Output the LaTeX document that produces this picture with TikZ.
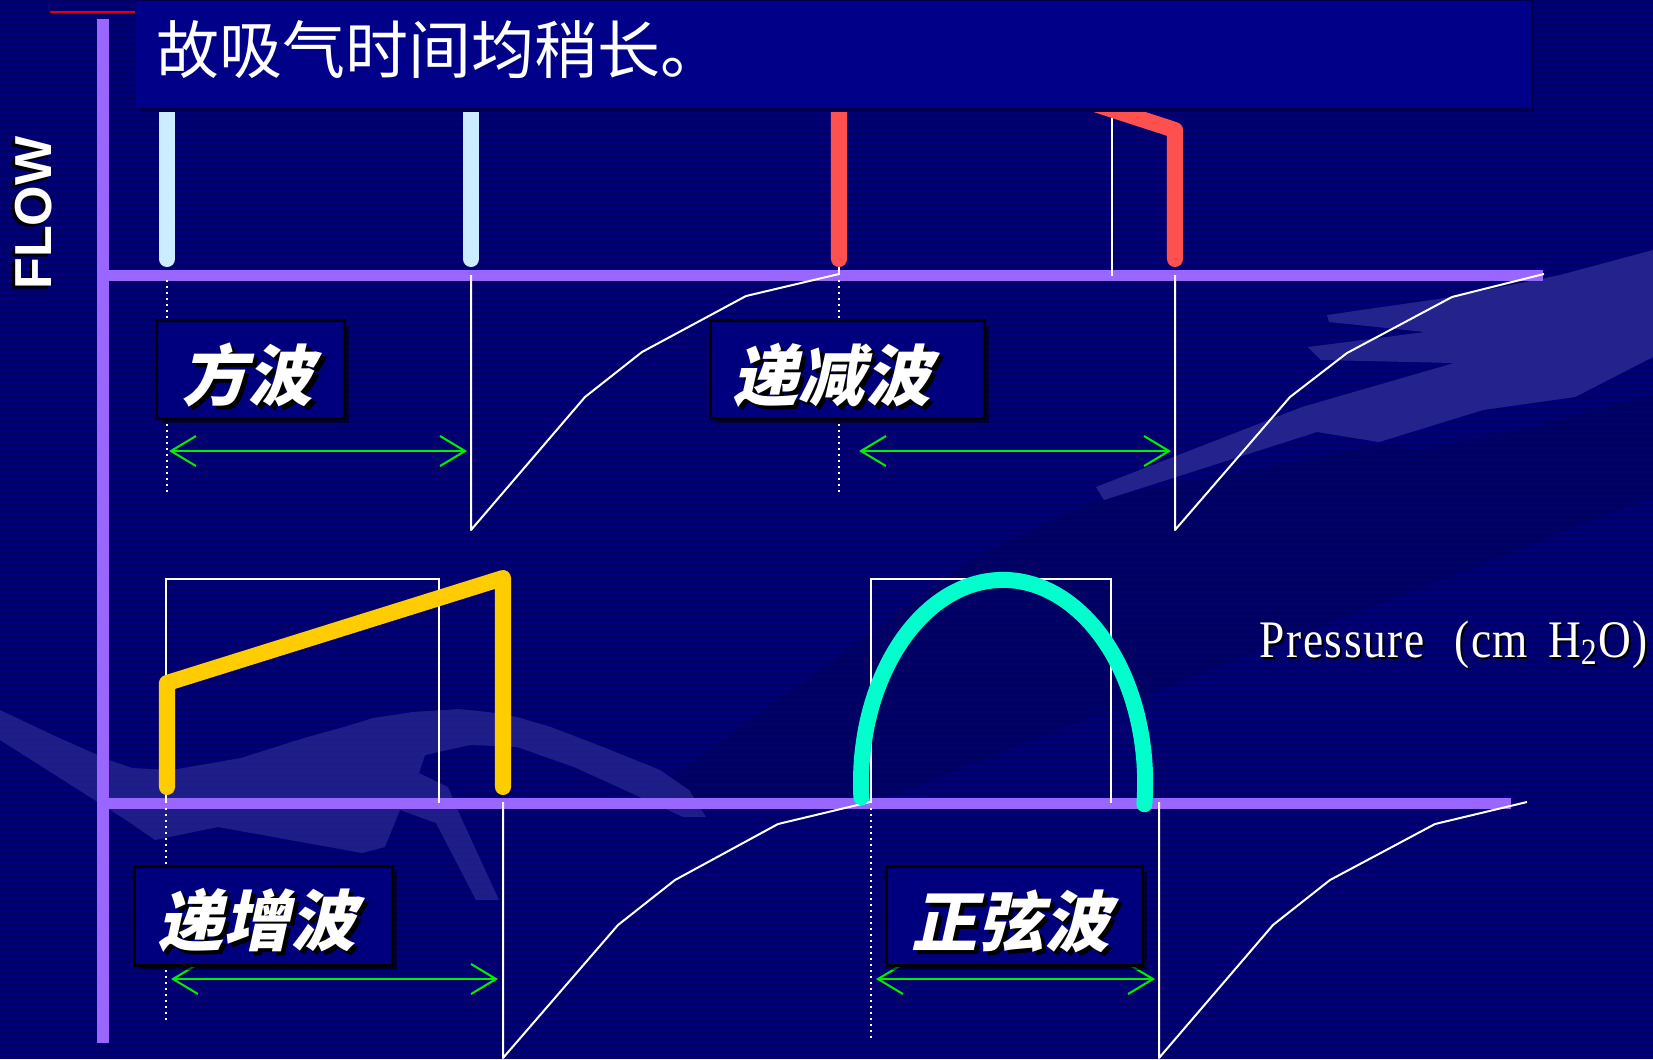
\documentclass[tikz,border=0pt]{standalone}
\usepackage{fontspec}
\setmainfont{Liberation Serif}
\newfontfamily\cjk{Noto Sans CJK SC}
\newfontfamily\cjkit[FakeSlant=0.22]{Noto Sans CJK SC}
\newfontfamily\flowfont{Liberation Sans}
\newfontfamily\pressfont[FakeStretch=0.86,LetterSpace=3]{Liberation Serif}
\usetikzlibrary{arrows.meta}
\definecolor{bgnavy}{HTML}{00007E}
\definecolor{bgstripe}{HTML}{000068}
\definecolor{titlenavy}{HTML}{000088}
\definecolor{titleshadow}{HTML}{00004A}
\definecolor{axispurple}{HTML}{9966FF}
\definecolor{barblue}{HTML}{CCECFF}
\definecolor{wavered}{HTML}{FF5050}
\definecolor{waveyellow}{HTML}{FFCC00}
\definecolor{wavecyan}{HTML}{00FFCC}
\definecolor{spangreen}{HTML}{00F000}
\definecolor{decolight}{HTML}{2A2A92}
\definecolor{decodark}{HTML}{00005C}
\definecolor{boxnavy}{HTML}{00007E}
\definecolor{accentred}{HTML}{E00000}
\tikzset{
  axisline/.style={draw=axispurple, line width=0.11cm},
  thinwhite/.style={draw=white, line width=0.02cm},
  dotwhite/.style={draw=white, line width=0.015cm, dash pattern=on 0.015cm off 0.045cm},
  wave/.style={line width=0.16cm, line cap=round, line join=round},
  span/.style={draw=spangreen, line width=0.02cm,
    {Straight Barb[length=0.25cm,width=0.3cm]}-{Straight Barb[length=0.25cm,width=0.3cm]}},
  labelbox/.style={draw=black, line width=0.03cm, fill=boxnavy, inner sep=0pt},
  boxshadow/.style={fill=black, opacity=0.55, inner sep=0pt},
  labeltext/.style={text=white, inner sep=0pt, font=\cjkit\bfseries\fontsize{18.8pt}{20pt}\selectfont},
  labelshadow/.style={text=black, inner sep=0pt, font=\cjkit\bfseries\fontsize{18.8pt}{20pt}\selectfont},
  presstext/.style={anchor=base west, inner sep=0pt, font=\pressfont\fontsize{15pt}{17pt}\selectfont},
}
\newcommand{\presslabel}{Pressure\hspace{0.3cm}(cm\hspace{0.2cm}H\textsubscript{2}O)}
\begin{document}
\begin{tikzpicture}[x=0.01cm,y=0.01cm]
\useasboundingbox (0,0) rectangle (1653,-1059);
% background
\fill[bgnavy] (0,0) rectangle (1653,-1059);
\foreach \s in {0,6,...,1056} \fill[bgstripe] (0,-\s) rectangle (1653,-\s-3);
% decorative faint shapes
\fill[decodark, opacity=0.55] (640,-800) -- (982,-553) -- (1096,-500) -- (1381,-445) -- (1420,-450) -- (1520,-430) -- (1653,-395) -- (1653,-497) -- (880,-800) -- cycle;
\fill[decolight, opacity=0.85] (1327,-315) -- (1452,-297) -- (1560,-275) -- (1653,-250) -- (1653,-357) -- (1575,-397) -- (1483,-410) -- (1379,-442) -- (1317,-432) -- (1302,-407) -- (1454,-363) -- (1321,-360) -- (1308,-347) -- (1425,-332) -- (1329,-322) -- cycle;
\fill[decolight, opacity=0.85] (1096,-487) -- (1302,-407) -- (1317,-432) -- (1104,-500) -- cycle;
\fill[decolight, opacity=0.7] (0,-710) -- (57,-737) -- (109,-760) -- (132,-768) -- (172,-770) -- (241,-758) -- (304,-738) -- (344,-727) -- (373,-718) -- (413,-712) -- (459,-709) -- (488,-712) -- (517,-717) -- (551,-727) -- (603,-747) -- (660,-770) -- (689,-790) -- (706,-817) -- (683,-817) -- (631,-793) -- (574,-767) -- (517,-747) -- (470,-745) -- (425,-755) -- (419,-773) -- (448,-787) -- (459,-813) -- (499,-900) -- (476,-900) -- (436,-823) -- (400,-810) -- (385,-847) -- (362,-853) -- (218,-827) -- (155,-840) -- (126,-820) -- (0,-740) -- cycle;

% axes
\coordinate (yTop) at (103,-19);
\coordinate (yBot) at (103,-1043);
\coordinate (o1) at (98,-275);
\coordinate (x1) at (1543,-275);
\coordinate (o2) at (98,-803);
\coordinate (x2) at (1511,-803);
\draw[axisline] (yTop) -- (yBot);
\draw[axisline] (o1) -- (x1);
\draw[axisline] (o2) -- (x2);

% square-wave reference outlines
\draw[thinwhite] (839,-275) -- (839,-40) -- (1112,-40) -- (1112,-276);
\draw[thinwhite] (166,-803) -- (166,-579) -- (439,-579) -- (439,-803);
\draw[thinwhite] (871,-803) -- (871,-579) -- (1111,-579) -- (1111,-803);

% expiratory flow curves
\draw[thinwhite, line join=round] (471,-275) -- (471,-530) -- (585,-397) -- (642,-352) -- (746,-296) -- (839,-274);
\draw[thinwhite, line join=round] (1175,-275) -- (1175,-530) -- (1290,-397) -- (1347,-353) -- (1452,-297) -- (1544,-274);
\draw[thinwhite, line join=round] (503,-802) -- (503,-1058) -- (618,-925) -- (675,-880) -- (778,-824) -- (870,-802);
\draw[thinwhite, line join=round] (1159,-802) -- (1159,-1058) -- (1273,-925) -- (1330,-880) -- (1435,-824) -- (1527,-802);

% dotted start markers
\draw[dotwhite] (167,-280) -- (167,-495);
\draw[dotwhite] (839,-280) -- (839,-495);
\draw[dotwhite] (166,-808) -- (166,-1023);
\draw[dotwhite] (871,-808) -- (871,-1038);

% inspiratory waveforms
\draw[wave, draw=barblue] (167,-259) -- (167,-40) -- (471,-40) -- (471,-259);
\draw[wave, draw=wavered] (839,-259) -- (839,-21) -- (1175,-130) -- (1175,-259);
\draw[wave, draw=waveyellow] (167,-787) -- (167,-683) -- (503,-578) -- (503,-787);
\draw[wave, draw=wavecyan] (861.35,-797.16) arc[start angle=184, end angle=-6, x radius=1.42cm, y radius=2.03cm];

% inspiratory time spans
\coordinate (s1a) at (169,-451); \coordinate (s1b) at (467,-451);
\coordinate (s2a) at (859,-451); \coordinate (s2b) at (1171,-451);
\coordinate (s3a) at (171,-979); \coordinate (s3b) at (498,-979);
\coordinate (s4a) at (876,-979); \coordinate (s4b) at (1155,-979);
\draw[span] (s1a) -- (s1b);
\draw[span] (s2a) -- (s2b);
\draw[span] (s3a) -- (s3b);
\draw[span] (s4a) -- (s4b);

% label boxes
\node[boxshadow, minimum width=1.87cm, minimum height=0.97cm] (b1s) at (255.5,-374.5) {};
\node[labelbox, minimum width=1.87cm, minimum height=0.97cm] (b1) at (250.5,-369.5) {};
\node[boxshadow, minimum width=2.73cm, minimum height=0.97cm] (b2s) at (852.5,-374.5) {};
\node[labelbox, minimum width=2.73cm, minimum height=0.97cm] (b2) at (847.5,-369.5) {};
\node[boxshadow, minimum width=2.57cm, minimum height=0.98cm] (b3s) at (268.5,-921) {};
\node[labelbox, minimum width=2.57cm, minimum height=0.98cm] (b3) at (263.5,-916) {};
\node[boxshadow, minimum width=2.55cm, minimum height=0.98cm] (b4s) at (1019.5,-921) {};
\node[labelbox, minimum width=2.55cm, minimum height=0.98cm] (b4) at (1014.5,-916) {};

\node[labelshadow] (l1s) at (252,-379) {方波};
\node[labeltext] (l1) at (248,-375) {方波};
\node[labelshadow] (l2s) at (836,-379) {递减波};
\node[labeltext] (l2) at (832,-375) {递减波};
\node[labelshadow] (l3s) at (261,-924) {递增波};
\node[labeltext] (l3) at (257,-920) {递增波};
\node[labelshadow] (l4s) at (1015,-925) {正弦波};
\node[labeltext] (l4) at (1011,-921) {正弦波};

% axis titles
\node[rotate=90, text=black, inner sep=0pt, font=\flowfont\bfseries\fontsize{14.8pt}{16pt}\selectfont] (flows) at (31,-216) {FLOW};
\node[rotate=90, text=white, inner sep=0pt, font=\flowfont\bfseries\fontsize{14.8pt}{16pt}\selectfont] (flow) at (34,-213) {FLOW};
\node[presstext, text=black] (ps) at (1261,-659) {\presslabel};
\node[presstext, text=white] (p) at (1259,-657) {\presslabel};

% title banner
\fill[titleshadow] (140,0) rectangle (1534,-112);
\node[fill=titlenavy, anchor=north west, minimum width=13.94cm, minimum height=1.07cm, inner sep=0pt] (tb) at (135,0) {};
\node[anchor=base west, text=white, inner sep=0pt, font=\cjk\fontsize{17.9pt}{19pt}\selectfont] (title) at (156,-73) {故吸气时间均稍长。};
\draw[accentred, line width=0.025cm] (50,-12) -- (tb.north west |- 0,-12);
\end{tikzpicture}
\end{document}
